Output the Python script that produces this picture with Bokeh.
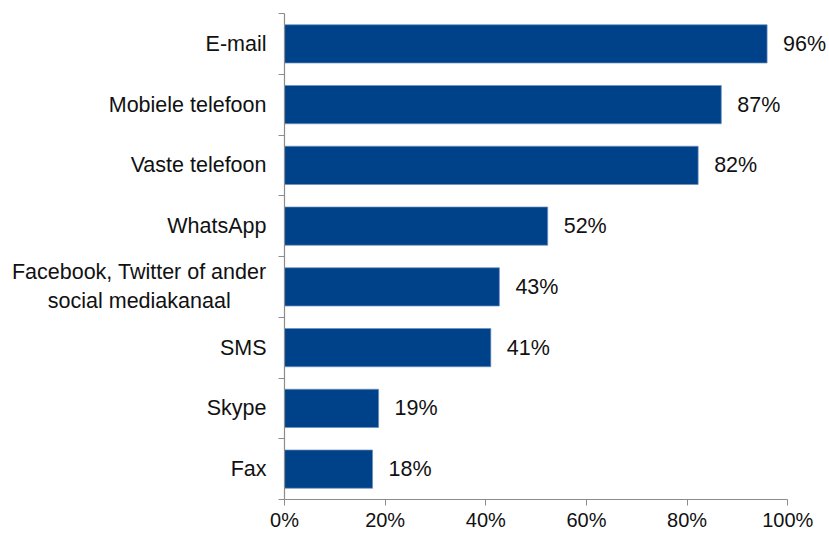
from bokeh.plotting import figure
from bokeh.models import Range1d, FixedTicker, LinearAxis
from bokeh.core.properties import value
from bokeh.embed import file_html
from bokeh.resources import INLINE

categories = ["E-mail", "Mobiele telefoon", "Vaste telefoon", "WhatsApp",
              "Facebook, Twitter of ander\nsocial mediakanaal\u00a0\u00a0\u00a0\u00a0\u00a0\u00a0",
              "SMS", "Skype", "Fax"]
values = [95.9, 86.8, 82.2, 52.3, 42.7, 41.0, 18.7, 17.5]
value_labels = ["96%", "87%", "82%", "52%", "43%", "41%", "19%", "18%"]
x_ticks = [0, 20, 40, 60, 80, 100]
x_tick_labels = ["0%", "20%", "40%", "60%", "80%", "100%"]

FONT = "Liberation Sans"
BAR = "#00428A"
AXIS = "#8c8c8c"

n = len(categories)
ypos = [n - 1 - i + 0.5 for i in range(n)]

p = figure(width=829, height=533, output_backend="svg", toolbar_location=None,
           x_range=Range1d(0, 108.3), y_range=Range1d(0, n),
           min_border_left=284, min_border_right=0, min_border_top=13, min_border_bottom=0,
           x_axis_location=None, y_axis_location=None)
p.outline_line_color = None
p.xgrid.visible = False
p.ygrid.visible = False

p.hbar(y=ypos, right=values, left=0, height=0.63, fill_color=BAR,
       line_color="#6f8fbf", line_width=0.7)

p.text(x=values, y=ypos, text=value_labels, x_offset=16, text_align="left",
       text_baseline="middle", text_font=value(FONT), text_font_size="21.5px",
       text_color="#111111")

# y axis: labels at band centres, tick marks between bands (minor ticks)
yax = LinearAxis(ticker=FixedTicker(ticks=ypos, minor_ticks=list(range(n + 1))))
yax.major_label_overrides = {y: c for y, c in zip(ypos, categories)}
yax.major_tick_out = 0
yax.major_tick_in = 0
yax.minor_tick_out = 6
yax.minor_tick_in = 0
yax.minor_tick_line_color = AXIS
yax.axis_line_color = AXIS
yax.axis_line_width = 1.2
yax.major_label_standoff = 12
yax.major_label_text_font = FONT
yax.major_label_text_font_size = "21.5px"
yax.major_label_text_color = "#111111"
p.add_layout(yax, "left")

xax = LinearAxis(ticker=FixedTicker(ticks=x_ticks, minor_ticks=[]))
xax.major_label_overrides = {t: l for t, l in zip(x_ticks, x_tick_labels)}
xax.bounds = (0, 100)
xax.major_tick_out = 6
xax.major_tick_in = 0
xax.major_tick_line_color = AXIS
xax.axis_line_color = AXIS
xax.axis_line_width = 1.2
xax.major_label_standoff = 3
xax.major_label_text_font = FONT
xax.major_label_text_font_size = "20px"
xax.major_label_text_color = "#111111"
p.add_layout(xax, "below")

open("out.html", "w").write(file_html(p, INLINE))
